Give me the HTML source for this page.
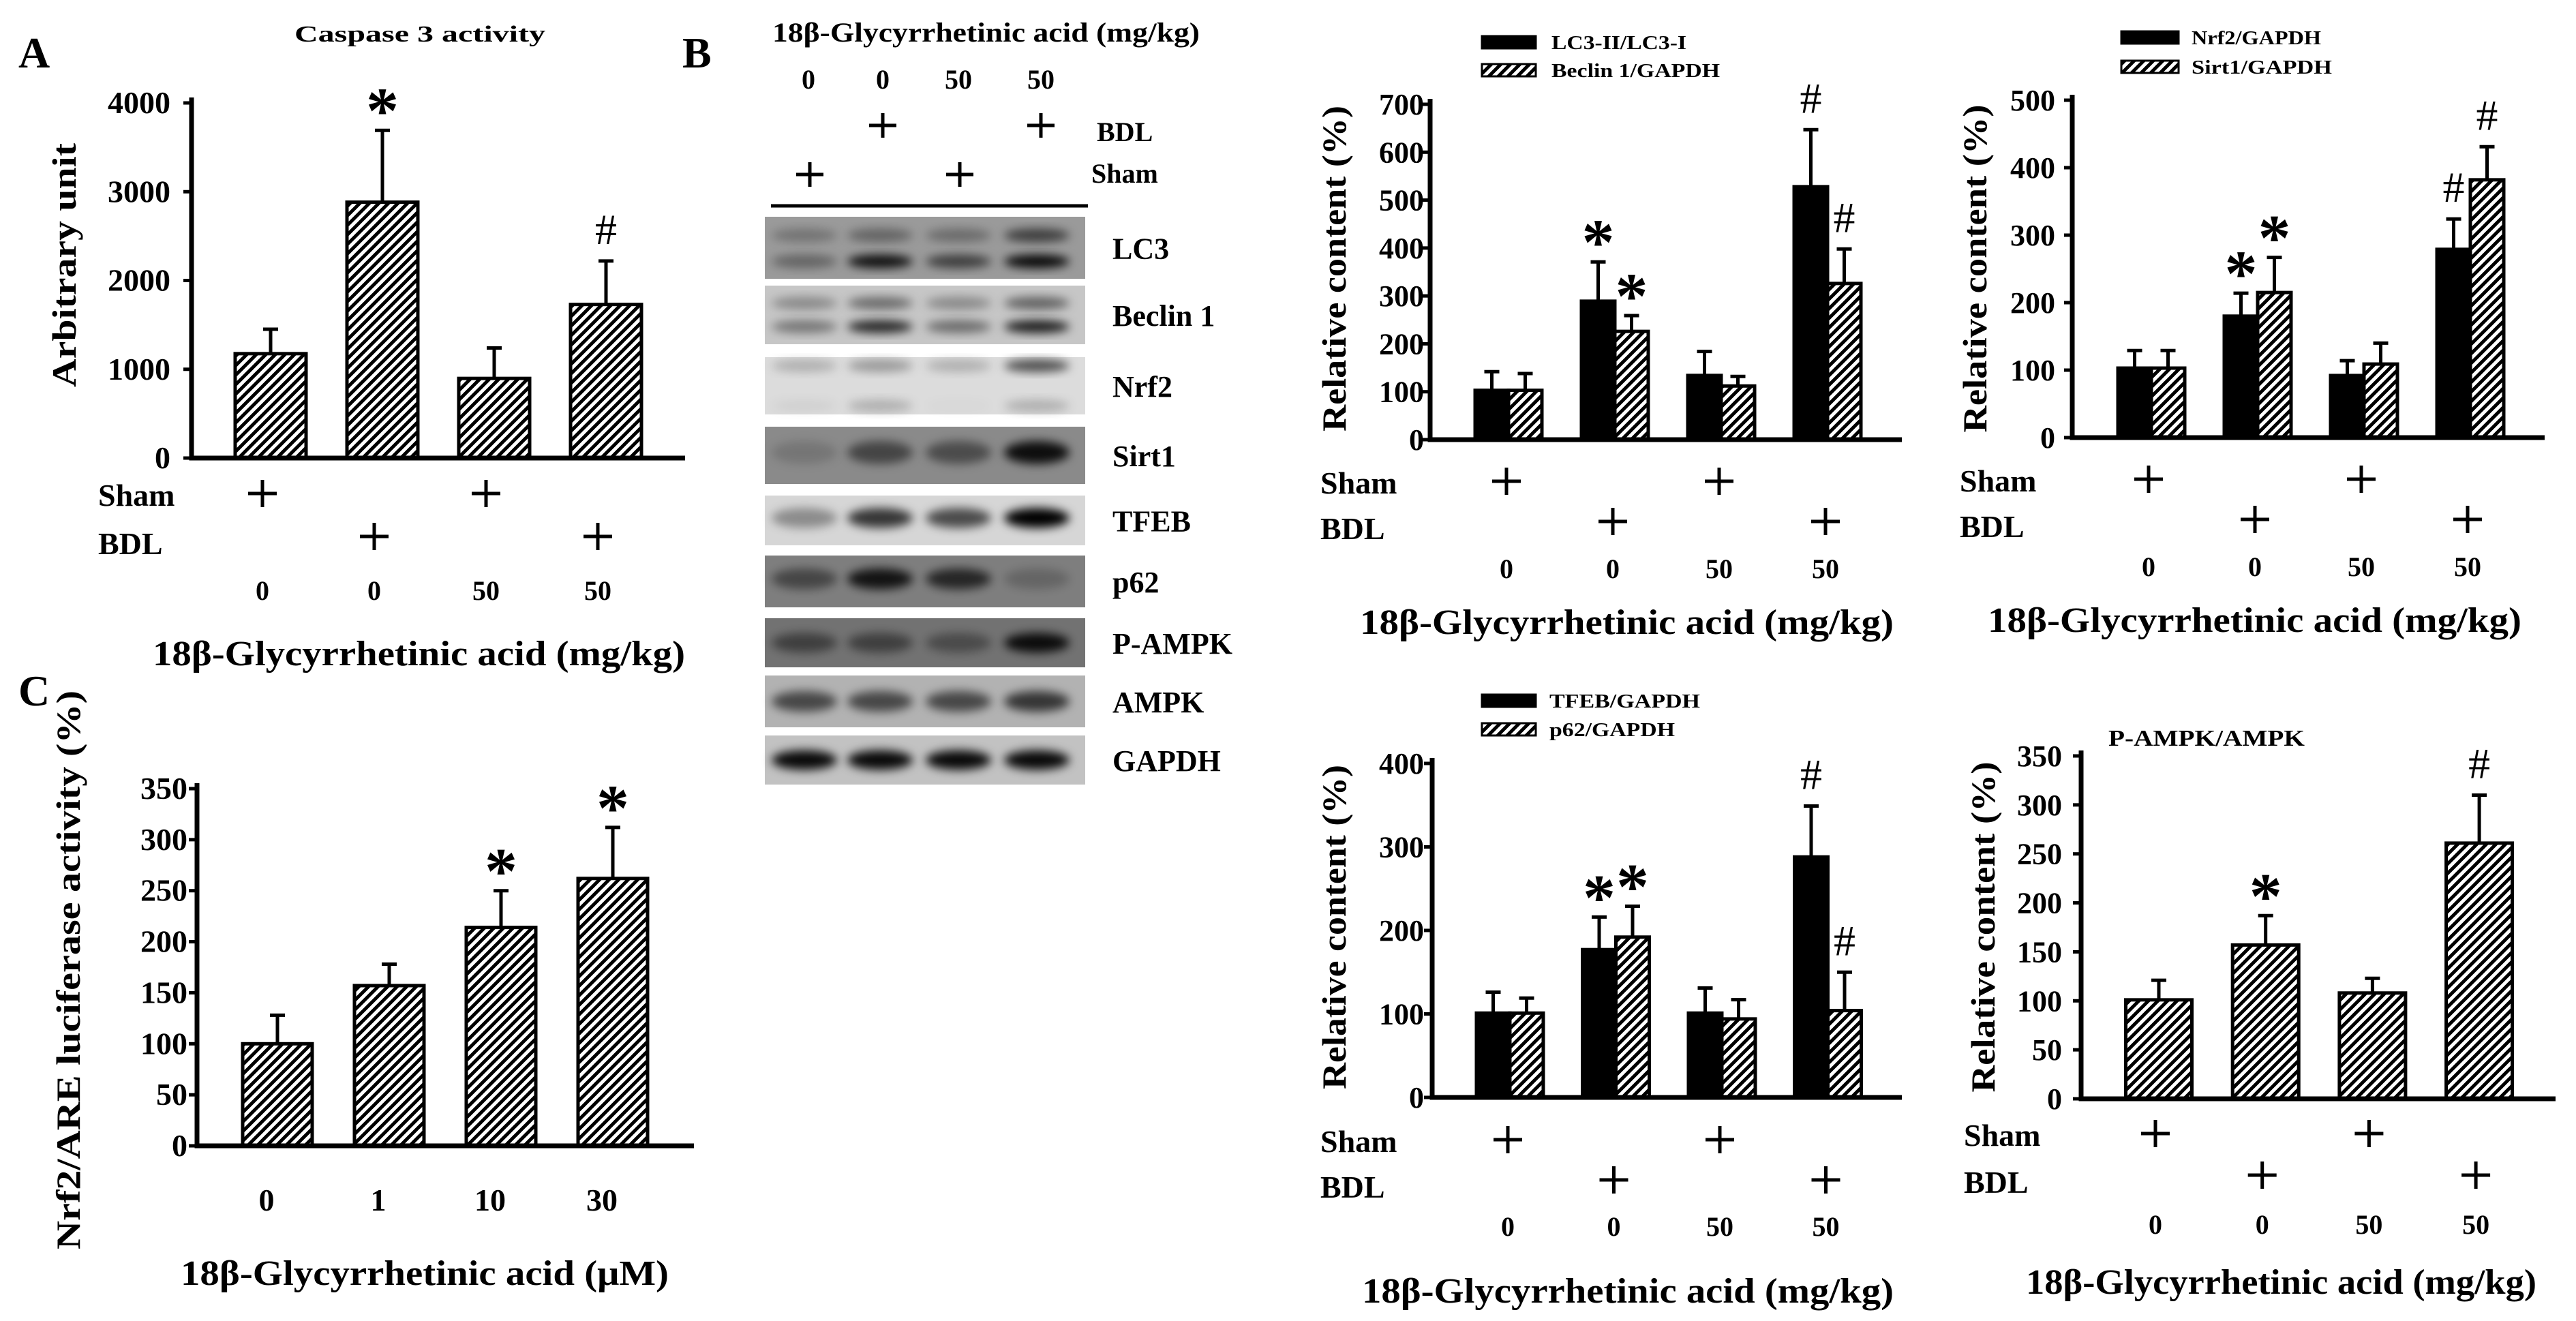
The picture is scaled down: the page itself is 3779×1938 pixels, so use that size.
<!DOCTYPE html>
<html><head><meta charset="utf-8"><style>
html,body{margin:0;padding:0;background:#fff;}
svg{display:block;font-family:"Liberation Serif","Times New Roman",serif;font-weight:bold;}
text{font-family:"Liberation Serif","Times New Roman",serif;}
</style></head><body>
<svg id="fig" xmlns="http://www.w3.org/2000/svg" width="3779" height="1938" viewBox="0 0 3779 1938">
<defs>
<pattern id="hatch" patternUnits="userSpaceOnUse" width="14" height="14">
<rect width="14" height="14" fill="#fff"/>
<path d="M-4,4 L4,-4 M0,14 L14,0 M10,18 L18,10" stroke="#000" stroke-width="5"/>
</pattern>
<filter id="blur" x="-50%" y="-50%" width="200%" height="200%"><feGaussianBlur stdDeviation="7"/></filter>
</defs>
<rect width="3779" height="1938" fill="#fff"/>
<text x="27" y="99" font-size="64">A</text>
<text x="1001" y="99" font-size="64">B</text>
<text x="27" y="1035" font-size="64">C</text>
<g id="blot"></g>
</svg>
<script>
// ---------- data ----------
const groupCats = ['0','0','50','50'];
const shamFlags = [1,0,1,0];
const bdlFlags = [0,1,0,1];
const caspaseVals = [1176,2882,897,1730];
const caspaseErr = [275,809,343,490];
const caspaseMarks = ['','*','','#'];
const lc3Vals = [103,289,134,528];
const lc3Err = [39,82,50,119];
const lc3Marks = ['','*','','#'];
const beclinVals = [103,226,112,326];
const beclinErr = [35,33,20,72];
const beclinMarks = ['','*','','#'];
const nrf2Vals = [103,180,92,279];
const nrf2Err = [26,34,22,45];
const nrf2Marks = ['','*','','#'];
const sirt1Vals = [103,215,109,382];
const sirt1Err = [26,52,31,49];
const sirt1Marks = ['','*','','#'];
const tfebVals = [101,177,101,288];
const tfebErr = [25,39,30,61];
const tfebMarks = ['','*','','#'];
const p62Vals = [101,192,94,104];
const p62Err = [18,37,23,46];
const p62Marks = ['','*','','#'];
const pampkVals = [101,157,108,261];
const pampkErr = [20,30,15,49];
const pampkMarks = ['','*','','#'];
const lucCats = ['0','1','10','30'];
const lucVals = [100,157,214,262];
const lucErr = [28,21,36,50];
const lucMarks = ['','','*','*'];

const NS='http://www.w3.org/2000/svg';
const svg=document.getElementById('fig');
function mk(tag,attrs,parent,txt){const e=document.createElementNS(NS,tag);for(const k in attrs)e.setAttribute(k,attrs[k]);if(txt!==undefined)e.textContent=txt;(parent||svg).appendChild(e);return e;}
function plus(cx,cy,parent,w,h){return mk('path',{d:`M${cx-w/2},${cy} H${cx+w/2} M${cx},${cy-h/2} V${cy+h/2}`,stroke:'#000','stroke-width':5,fill:'none'},parent);}

function chart(c){
  const g=mk('g',{});
  
  
  const y=v=>c.base-(v/c.ymax)*(c.base-c.top);
  const x=i=>c.x0+i*c.dx;
  for(let t=0;t<=c.ymax+1e-9;t+=c.ystep){
    const tl=mk('line',{x1:c.ax-12,x2:c.ax,y1:y(t),y2:y(t),stroke:'#000','stroke-width':5},g);
    
    
    const tx=mk('text',{x:c.tickR,y:y(t)+15,'font-size':c.tfs||44,'text-anchor':'end'},g,String(t));
    
    
  }
  c.series.forEach((s,si)=>{
    const off=c.series.length===1?0:(si===0?-c.bw/2:c.bw/2);
    s.vals.forEach((v,i)=>{
      const cx=x(i)+off;
      const r=mk('rect',{x:cx-c.bw/2,y:y(v),width:c.bw,height:c.base-y(v),fill:s.solid?'#000':'url(#hatch)',stroke:'#000','stroke-width':5},g);
      
      
      const et=y(v+s.err[i]);
      const el=mk('path',{d:`M${cx},${y(v)} V${et} M${cx-11},${et} H${cx+11}`,stroke:'#000','stroke-width':5,fill:'none'},g);
      
      
      const m=s.marks[i];
      if(m){
        const t=m==='*'?mk('text',{x:cx,y:et+4,'font-size':96,'text-anchor':'middle'},g,m):mk('text',{x:cx,y:et-25,'font-size':64,'font-weight':'normal','text-anchor':'middle'},g,m);
        
        
      }
    });
  });
  const ax=mk('path',{d:`M${c.ax},${c.top-8} V${c.base} H${c.right}`,stroke:'#000','stroke-width':7,fill:'none'},g);
  
  
  const yt=mk('text',{x:c.ytx+17,y:c.yty,'font-size':50,'text-anchor':'middle',transform:`rotate(-90 ${c.ytx+17} ${c.yty})`,textLength:c.ytl,lengthAdjust:'spacingAndGlyphs'},g,c.ytitle);
  
  
  if(c.sham){
    const s1=mk('text',{x:c.lx,y:c.shamY,'font-size':46},g,'Sham');
    
    
    const s2=mk('text',{x:c.lx,y:c.bdlY,'font-size':46},g,'BDL');
    
    
    shamFlags.forEach((f,i)=>{ if(f){const p=plus(x(i)+(c.plusOff||0),c.shamY-18,g,42,40);
      
      }});
    bdlFlags.forEach((f,i)=>{ if(f){const p=plus(x(i)+(c.plusOff||0),c.bdlY-26,g,42,40);
      
      }});
  }
  c.cats.forEach((cat,i)=>{
    const t=mk('text',{x:x(i)+(c.catOff||0),y:c.catY,'font-size':c.cfs||40,'text-anchor':'middle'},g,cat);
    
    
  });
  const xl=mk('text',{x:c.xlx,y:c.xly,'font-size':52,textLength:c.xll,lengthAdjust:'spacingAndGlyphs'},g,c.xlabel);
  
  
  (c.legend||[]).forEach((L,i)=>{
    const r=mk('rect',{x:c.legX,y:L.y,width:c.legW,height:18,fill:L.solid?'#000':'url(#hatch)',stroke:'#000','stroke-width':3},g);
    
    
    const t=mk('text',{x:c.legTX,y:L.y+19,'font-size':28,textLength:L.w,lengthAdjust:'spacingAndGlyphs'},g,L.text);
    
    
  });
  if(c.title){
    const t=mk('text',{x:c.title.x,y:c.title.y,'font-size':34,textLength:c.title.w,lengthAdjust:'spacingAndGlyphs'},g,c.title.text);
    
    
  }
}
const XL='18\u03B2-Glycyrrhetinic acid (mg/kg)';
const YL='Relative content (%)';
chart({name:'caspase-chart',ax:281,top:151,base:672,right:1005,ymax:4000,ystep:1000,x0:397,dx:164,bw:104,tickR:250,tfs:46,
  series:[{key:'caspase',vals:caspaseVals,err:caspaseErr,marks:caspaseMarks}],
  ytx:94,yty:389,ytl:358,ytitle:'Arbitrary unit',sham:true,lx:144,shamY:742,bdlY:813,cats:groupCats,catY:880,catOff:-12,plusOff:-12,
  xlx:224,xly:976,xll:781,xlabel:XL,title:{x:432,y:61,w:368,text:'Caspase 3 activity'}});
chart({name:'lc3-beclin-chart',ax:2098,top:153,base:645,right:2790,ymax:700,ystep:100,x0:2213,dx:156,bw:49,tickR:2089,
  series:[{key:'lc3',solid:true,vals:lc3Vals,err:lc3Err,marks:lc3Marks},{key:'beclin',vals:beclinVals,err:beclinErr,marks:beclinMarks}],
  ytx:1957,yty:394,ytl:478,ytitle:YL,sham:true,lx:1937,shamY:724,bdlY:791,cats:groupCats,catY:848,catOff:-3,plusOff:-3,
  xlx:1995,xly:930,xll:783,xlabel:XL,legX:2174,legW:79,legTX:2276,
  legend:[{y:53,solid:true,text:'LC3-II/LC3-I',w:198},{y:94,text:'Beclin 1/GAPDH',w:247}]});
chart({name:'nrf2-sirt1-chart',ax:3040,top:147,base:642,right:3733,ymax:500,ystep:100,x0:3156,dx:156,bw:49,tickR:3015,
  series:[{key:'nrf2',solid:true,vals:nrf2Vals,err:nrf2Err,marks:nrf2Marks},{key:'sirt1',vals:sirt1Vals,err:sirt1Err,marks:sirt1Marks}],
  ytx:2897,yty:394,ytl:481,ytitle:YL,sham:true,lx:2875,shamY:721,bdlY:788,cats:groupCats,catY:845,catOff:-4,plusOff:-4,
  xlx:2916,xly:927,xll:783,xlabel:XL,legX:3112,legW:84,legTX:3215,
  legend:[{y:46,solid:true,text:'Nrf2/GAPDH',w:190},{y:89,text:'Sirt1/GAPDH',w:206}]});
chart({name:'tfeb-p62-chart',ax:2101,top:1120,base:1610,right:2790,ymax:400,ystep:100,x0:2215,dx:155.5,bw:49,tickR:2089,
  series:[{key:'tfeb',solid:true,vals:tfebVals,err:tfebErr,marks:tfebMarks},{key:'p62',vals:p62Vals,err:p62Err,marks:p62Marks}],
  ytx:1957,yty:1360,ytl:476,ytitle:YL,sham:true,lx:1937,shamY:1690,bdlY:1757,cats:groupCats,catY:1813,catOff:-3,plusOff:-3,
  xlx:1998,xly:1911,xll:780,xlabel:XL,legX:2174,legW:79,legTX:2273,
  legend:[{y:1019,solid:true,text:'TFEB/GAPDH',w:221},{y:1061,text:'p62/GAPDH',w:184}]});
chart({name:'pampk-chart',ax:3053,top:1109,base:1612,right:3749,ymax:350,ystep:50,x0:3167,dx:156.7,bw:97,tickR:3025,
  series:[{key:'pampk',vals:pampkVals,err:pampkErr,marks:pampkMarks}],
  ytx:2909,yty:1360,ytl:485,ytitle:YL,sham:true,lx:2881,shamY:1681,bdlY:1750,cats:groupCats,catY:1810,catOff:-5,plusOff:-5,
  xlx:2972,xly:1898,xll:749,xlabel:XL,title:{x:3093,y:1094,w:288,text:'P-AMPK/AMPK'}});
chart({name:'luciferase-chart',ax:289,top:1157,base:1681,right:1018,ymax:350,ystep:50,x0:407,dx:164,bw:102,tickR:275,tfs:46,
  series:[{key:'luciferase',vals:lucVals,err:lucErr,marks:lucMarks}],
  ytx:100,yty:1423,ytl:820,ytitle:'Nrf2/ARE luciferase activity (%)',sham:false,cats:lucCats,catY:1776,catOff:-16,cfs:46,
  xlx:265,xly:1885,xll:716,xlabel:'18\u03B2-Glycyrrhetinic acid (\u03BCM)'});

// ---------- western blot ----------
const blotRows = ['LC3','Beclin 1','Nrf2','Sirt1','TFEB','p62','P-AMPK','AMPK','GAPDH'];
const blotTop = [318,419,524,626,727,815,907,991,1079];
const blotBot = [409,505,608,710,800,891,979,1067,1151];
const blotBg = ['#9a9a9a','#c6c6c6','#dcdcdc','#8a8a8a','#d6d6d6','#7e7e7e','#727272','#b2b2b2','#c2c2c2'];
const blotBands = [
  [[.3,[.25,.35,.3,.6]],[.72,[.35,.9,.6,.95]]],
  [[.3,[.3,.45,.3,.5]],[.7,[.4,.8,.45,.85]]],
  [[.15,[.2,.3,.2,.65]],[.85,[.05,.2,.02,.2]]],
  [[.45,[.15,.5,.45,.9]]],
  [[.45,[.35,.75,.65,1]]],
  [[.45,[.45,.85,.7,.2]]],
  [[.5,[.45,.45,.35,.9]]],
  [[.5,[.6,.6,.6,.7]]],
  [[.5,[.95,.95,.95,.95]]]
];
const laneX=[1180,1291,1406,1521];
const blot=document.getElementById('blot');
blotRows.forEach((name,r)=>{
  const t0=blotTop[r],t1=blotBot[r],h=t1-t0;
  const bg=mk('rect',{x:1122,y:t0,width:470,height:h,fill:blotBg[r]},blot);
  
  
  blotBands[r].forEach(b=>{
    b[1].forEach((d,i)=>{
      const e=mk('ellipse',{cx:laneX[i],cy:t0+b[0]*h,rx:48,ry:Math.max(7,h*(blotBands[r].length>1?0.11:0.2)),fill:'#000','fill-opacity':d,filter:'url(#blur)'},blot);
      
      
    });
  });
  const lb=mk('text',{x:1632,y:(t0+t1)/2+16,'font-size':44},blot,name);
  
  
});
const bt=mk('text',{x:1133,y:61,'font-size':40,textLength:627,lengthAdjust:'spacingAndGlyphs'},blot,'18\u03B2-Glycyrrhetinic acid (mg/kg)');


const blotDose=['0','0','50','50'];
const doseX=[1186,1295,1406,1527];
blotDose.forEach((d,i)=>{const t=mk('text',{x:doseX[i],y:130,'font-size':40,'text-anchor':'middle'},blot,d);
  
  });
bdlFlags.forEach((f,i)=>{if(f){const t=plus(doseX[i],184,blot,40,36);
  
  }});
shamFlags.forEach((f,i)=>{if(f){const t=plus(doseX[i]+2,256,blot,40,36);
  
  }});
const t1=mk('text',{x:1609,y:207,'font-size':40},blot,'BDL');


const t2=mk('text',{x:1601,y:268,'font-size':40},blot,'Sham');


const ln=mk('line',{x1:1131,x2:1596,y1:302,y2:302,stroke:'#000','stroke-width':5},blot);


</script>
</body></html>
